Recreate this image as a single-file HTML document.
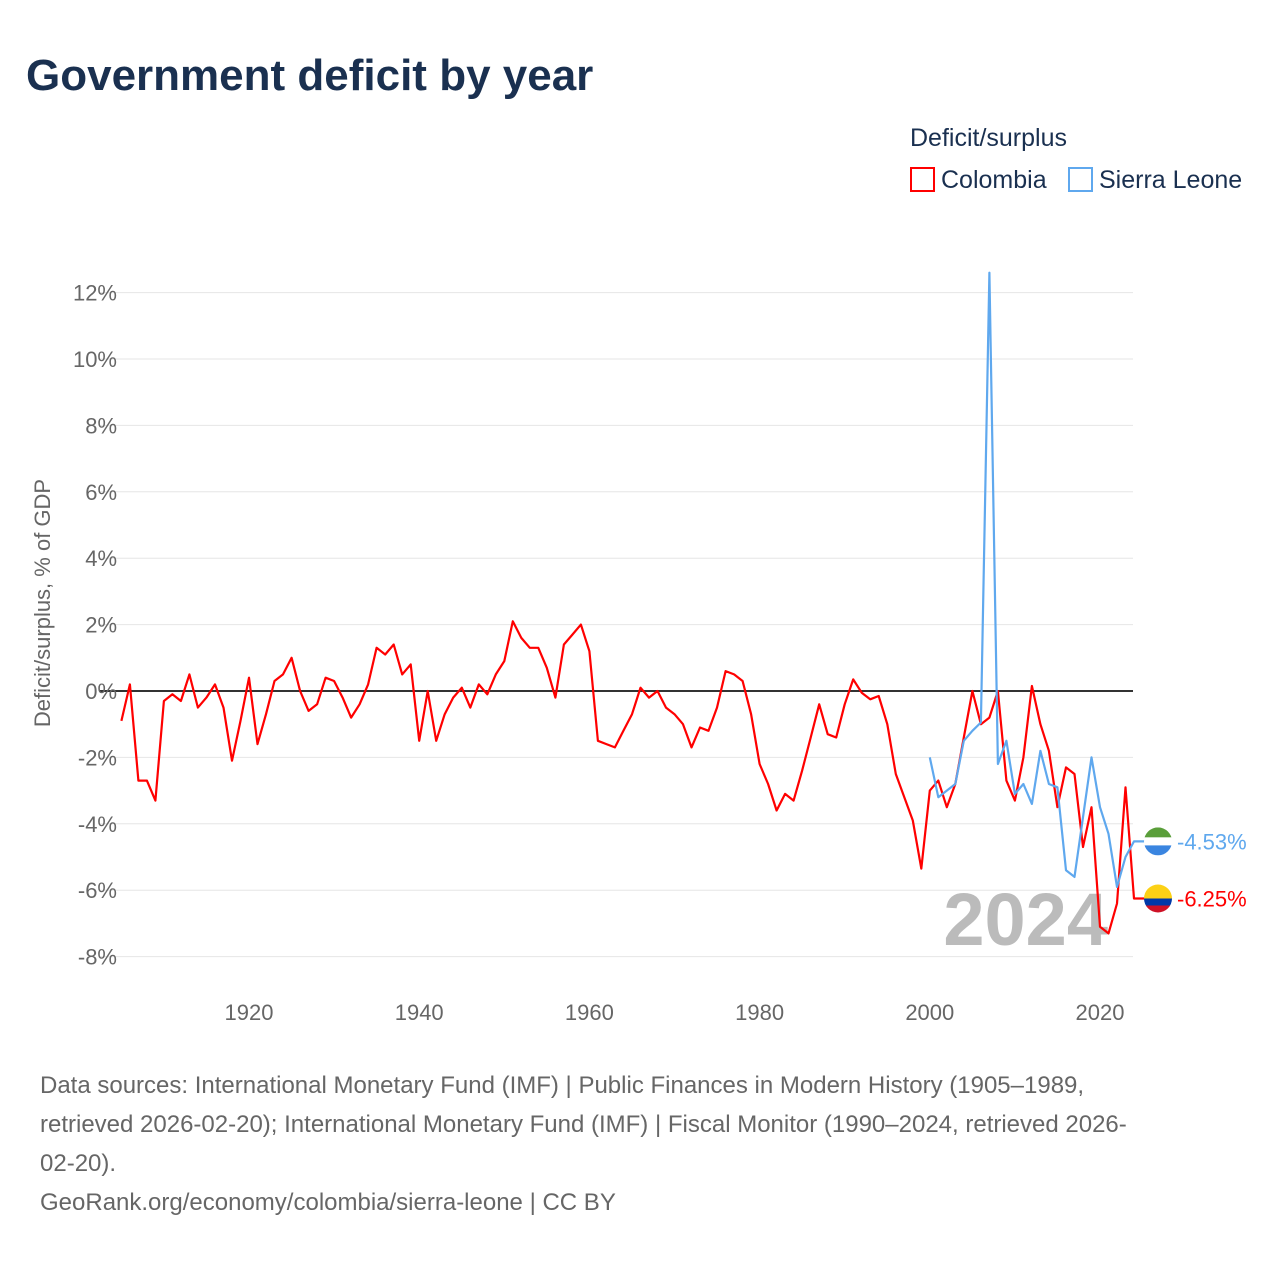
<!DOCTYPE html>
<html><head><meta charset="utf-8"><style>
body{margin:0;background:#fff;font-family:"Liberation Sans",sans-serif;}
#wrap{position:relative;width:1280px;height:1280px;overflow:hidden;}
.t{position:absolute;white-space:nowrap;}
</style></head><body>
<div id="wrap">
<div class="t" style="left:26px;top:51px;font-size:44px;font-weight:bold;color:#1a3050;">Government deficit by year</div>
<div class="t" style="left:910px;top:124px;font-size:25px;color:#1a3050;">Deficit/surplus</div>
<div class="t" style="left:910px;top:166px;font-size:25px;color:#1a3050;"><span style="display:inline-block;width:21px;height:21px;border:2px solid #f00;vertical-align:-4px;margin-right:6px;"></span>Colombia</div>
<div class="t" style="left:1068px;top:166px;font-size:25px;color:#1a3050;"><span style="display:inline-block;width:21px;height:21px;border:2px solid #5fa8ee;vertical-align:-4px;margin-right:6px;"></span>Sierra Leone</div>
<svg id="chart" width="1280" height="1280" style="position:absolute;left:0;top:0;"></svg>
<div class="t" style="left:40px;top:1066px;font-size:24px;line-height:39px;color:#666;">Data sources: International Monetary Fund (IMF) | Public Finances in Modern History (1905–1989,<br>retrieved 2026-02-20); International Monetary Fund (IMF) | Fiscal Monitor (1990–2024, retrieved 2026-<br>02-20).<br>GeoRank.org/economy/colombia/sierra-leone | CC BY</div>
</div>
<script>
const yTicks=[12,10,8,6,4,2,0,-2,-4,-6,-8];
const xTicks=[1920,1940,1960,1980,2000,2020];
const colYears=[];for(let y=1905;y<=2024;y++)colYears.push(y);
const colValues=[-0.9,0.2,-2.7,-2.7,-3.3,-0.3,-0.1,-0.3,0.5,-0.5,-0.2,0.2,-0.5,-2.1,-0.9,0.4,-1.6,-0.7,0.3,0.5,1.0,0,-0.6,-0.4,0.4,0.3,-0.2,-0.8,-0.4,0.2,1.3,1.1,1.4,0.5,0.8,-1.5,0,-1.5,-0.7,-0.2,0.1,-0.5,0.2,-0.1,0.5,0.9,2.1,1.6,1.3,1.3,0.7,-0.2,1.4,1.7,2.0,1.2,-1.5,-1.6,-1.7,-1.2,-0.7,0.1,-0.2,0,-0.5,-0.7,-1.0,-1.7,-1.1,-1.2,-0.5,0.6,0.5,0.3,-0.7,-2.2,-2.8,-3.6,-3.1,-3.3,-2.4,-1.4,-0.4,-1.3,-1.4,-0.4,0.35,-0.05,-0.25,-0.15,-1.0,-2.5,-3.2,-3.9,-5.35,-3.0,-2.7,-3.5,-2.8,-1.4,0,-1.0,-0.8,0,-2.7,-3.3,-2.0,0.15,-1.0,-1.8,-3.5,-2.3,-2.5,-4.7,-3.5,-7.1,-7.3,-6.4,-2.9,-6.25];
const slYears=[];for(let y=2000;y<=2024;y++)slYears.push(y);
const slValues=[-2.0,-3.2,-3.0,-2.8,-1.5,-1.2,-0.95,12.6,-2.2,-1.5,-3.1,-2.8,-3.4,-1.8,-2.8,-2.9,-5.4,-5.6,-3.8,-2.0,-3.5,-4.3,-5.9,-5.0,-4.53];
const NS="http://www.w3.org/2000/svg",svg=document.getElementById('chart');
const X=y=>249+(y-1920)*8.51, Y=v=>691-v*33.2;
const L=100,R=1133;
function mk(t,a){const e=document.createElementNS(NS,t);for(const k in a)e.setAttribute(k,a[k]);svg.appendChild(e);return e;}
yTicks.forEach(v=>{
 const g=mk('line',{x1:L,x2:R,y1:Y(v),y2:Y(v),stroke:v===0?'#333':'#e6e6e6','stroke-width':v===0?2:1});
 
 
 const t=mk('text',{x:117,y:Y(v)+8,'text-anchor':'end','font-size':22,fill:'#666','font-family':'Liberation Sans'});
 t.textContent=v+'%';
 
 
});
xTicks.forEach(v=>{
 const t=mk('text',{x:X(v),y:1020,'text-anchor':'middle','font-size':22,fill:'#666','font-family':'Liberation Sans'});
 t.textContent=v;
 
 
});
const yt=mk('text',{x:0,y:0,transform:'translate(50,603) rotate(-90)','text-anchor':'middle','font-size':22,fill:'#666','font-family':'Liberation Sans'});
yt.textContent='Deficit/surplus, % of GDP';


const yr=mk('text',{x:1108,y:945,'text-anchor':'end','font-size':74,'font-weight':'bold',fill:'#bbb','font-family':'Liberation Sans'});
yr.textContent='2024';


function series(xs,vs,c,name){
 const d=xs.map((y,i)=>(i?'L':'M')+X(y).toFixed(1)+','+Y(vs[i]).toFixed(1)).join('')+'H1145';
 const p=mk('path',{d:d,fill:'none',stroke:c,'stroke-width':2.2,'stroke-linejoin':'round'});
 
 
}
series(colYears,colValues,'#f00','colombia-line');
series(slYears,slValues,'#5fa8ee','sierra-leone-line');
function flag(v,cols,label,c,name){
 const cy=Y(v),cx=1158;
 const g=document.createElementNS(NS,'g');svg.appendChild(g);
 
 
 const id='cp'+name;
 const cp=document.createElementNS(NS,'clipPath');cp.setAttribute('id',id);
 const cc=document.createElementNS(NS,'circle');cc.setAttribute('cx',cx);cc.setAttribute('cy',cy);cc.setAttribute('r',14);cp.appendChild(cc);g.appendChild(cp);
 cols.forEach((col,i)=>{const r=document.createElementNS(NS,'rect');r.setAttribute('x',cx-14);r.setAttribute('y',cy-14+col[1]);r.setAttribute('width',28);r.setAttribute('height',col[2]);r.setAttribute('fill',col[0]);r.setAttribute('clip-path','url(#'+id+')');g.appendChild(r);});
 const t=mk('text',{x:1177,y:cy+8,'font-size':22,fill:c,'font-family':'Liberation Sans'});
 t.textContent=label;
 
 
}
flag(slValues[slValues.length-1],[['#5a9e3a',0,10],['#fff',10,8],['#3a85e0',18,10]],'-4.53%','#5fa8ee','sierra-leone');
flag(colValues[colValues.length-1],[['#fcd116',0,14],['#0038a8',14,7],['#ce1126',21,7]],'-6.25%','#f00','colombia');
</script>
</body></html>
